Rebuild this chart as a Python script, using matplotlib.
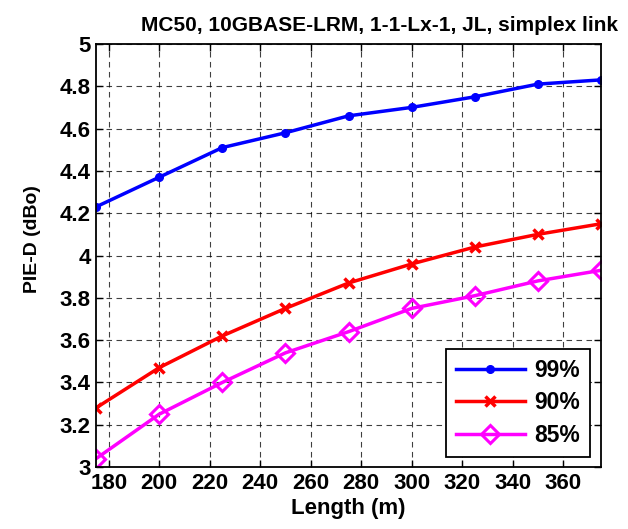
import matplotlib
matplotlib.use("Agg")
import matplotlib.pyplot as plt

length = [175, 200, 225, 250, 275, 300, 325, 350, 375]
pie_99 = [4.23, 4.37, 4.51, 4.58, 4.66, 4.70, 4.75, 4.81, 4.83]
pie_90 = [3.28, 3.47, 3.62, 3.75, 3.87, 3.96, 4.04, 4.10, 4.15]
pie_85 = [3.04, 3.25, 3.40, 3.54, 3.64, 3.75, 3.81, 3.88, 3.93]
labels = ["99%", "90%", "85%"]

plt.rcParams["font.family"] = ["Liberation Sans", "DejaVu Sans"]
plt.rcParams["font.weight"] = "bold"

fig = plt.figure(figsize=(6.28, 5.29), dpi=100)
ax = fig.add_axes([0.153, 0.117, 0.804, 0.800])

ax.plot(length, pie_99, color="#0000ff", lw=2.5, marker="o", ms=5.5, label=labels[0])
ax.plot(length, pie_90, color="#ff0000", lw=2.5, marker="x", ms=7, mew=2.5, label=labels[1])
ax.plot(length, pie_85, color="#ff00ff", lw=2.5, marker="D", ms=9, mfc="none", mew=2.2, label=labels[2])

ax.set_xlim(175, 375)
ax.set_ylim(3, 5)
ax.set_xticks(range(180, 361, 20))
ax.set_yticks([3, 3.2, 3.4, 3.6, 3.8, 4, 4.2, 4.4, 4.6, 4.8, 5])
ax.set_yticklabels(["3", "3.2", "3.4", "3.6", "3.8", "4", "4.2", "4.4", "4.6", "4.8", "5"])
ax.tick_params(direction="in", length=5, width=1, labelsize=16, pad=4, top=True, right=True)
ax.grid(True, color="black", ls=(0, (5, 4)), lw=0.8, alpha=0.75)
for s in ax.spines.values():
    s.set_linewidth(1.3)

ax.set_xlabel("Length (m)", fontsize=16, fontweight="bold", labelpad=3)
ax.set_ylabel("PIE-D (dBo)", fontsize=14, fontweight="bold")
ax.yaxis.set_label_coords(-0.11, 0.54)
ax.set_title("MC50, 10GBASE-LRM, 1-1-Lx-1, JL, simplex link", fontsize=15,
             fontweight="bold", pad=9, x=0.562)

leg = ax.legend(loc="lower right", fontsize=16.5, fancybox=False, framealpha=1,
                edgecolor="black", handlelength=3.0, handletextpad=0.4, borderpad=0.45,
                labelspacing=0.4, borderaxespad=0, bbox_to_anchor=(0.978, 0.024))
leg.get_frame().set_linewidth(1.3)

fig.savefig("out.png", dpi=100)
